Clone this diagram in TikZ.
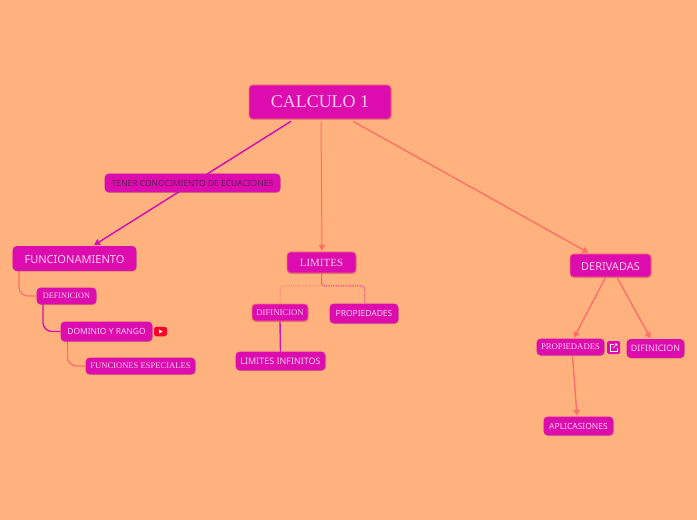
\documentclass[tikz,border=0pt]{standalone}
\usepackage{fontspec}
\setmainfont{Liberation Serif}
\newfontfamily\notof{Noto Sans}
\usetikzlibrary{arrows.meta,calc,shadows}
\pgfdeclarelayer{under}
\pgfsetlayers{under,main}
\definecolor{bgc}{HTML}{FFB27D}
\definecolor{boxc}{HTML}{DC0CAE}
\definecolor{linec}{HTML}{FF6F6A}
\definecolor{magl}{HTML}{D212B4}
\definecolor{txtc}{HTML}{F9CDE9}
\definecolor{darkt}{HTML}{5E1F56}
\tikzset{
  x=1bp,y=-1bp,
  topic/.style={draw=#1,line width=0.6pt,fill=boxc,rounded corners=3.5bp,inner sep=0pt,text=txtc,
    drop shadow={shadow xshift=0.5bp,shadow yshift=-1bp,opacity=.2,fill=black}},
  topic/.default=boxc,
  conn/.style={linec,line width=1.2pt,rounded corners=9bp},
  connm/.style={magl,line width=1.4pt,rounded corners=9bp},
  tip/.style={-{Triangle[length=6bp,width=6.5bp]}},
  dots/.style={line width=1pt,dash pattern=on 1bp off 1.4bp,rounded corners=3bp},
}
\begin{document}
\begin{tikzpicture}
\useasboundingbox (0,0) rectangle (697,520);
\path
 node[topic=linec,minimum width=142bp,minimum height=34bp,font=\fontsize{18}{20}\selectfont] (root) at (320,102) {CALCULO 1}
 node[topic=magl,minimum width=175bp,minimum height=18bp,text=darkt,font=\notof\fontsize{8.5}{10}\selectfont] (tener) at (192.5,183) {TENER CONOCIMIENTO DE ECUACIONES}
 node[topic,minimum width=123bp,minimum height=24bp,text height=10bp,font=\notof\fontsize{11.1}{13}\selectfont] (func) at (74.5,258.5) {FUNCIONAMIENTO}
 node[topic,minimum width=59bp,minimum height=16bp,font=\fontsize{8.3}{10}\selectfont] (defi) at (66.5,296) {DEFINICION}
 node[topic,minimum width=91bp,minimum height=19bp,font=\notof\fontsize{8.5}{10}\selectfont] (domi) at (106.5,331.5) {DOMINIO Y RANGO}
 node[topic,minimum width=109bp,minimum height=16bp,font=\fontsize{8.6}{10}\selectfont] (espe) at (140.5,366) {FUNCIONES ESPECIALES}
 node[topic=linec,minimum width=69bp,minimum height=21bp,font=\fontsize{11}{12}\selectfont] (limi) at (321.5,262.5) {LIMITES}
 node[topic=linec,minimum width=56bp,minimum height=17bp,font=\fontsize{8.7}{10}\selectfont] (difl) at (280,312.5) {DIFINICION}
 node[topic,minimum width=68bp,minimum height=19bp,font=\notof\fontsize{8.5}{10}\selectfont] (propl) at (364,313.5) {PROPIEDADES}
 node[topic,minimum width=89bp,minimum height=18bp,font=\notof\fontsize{9}{10}\selectfont] (inf) at (280.5,361) {LIMITES INFINITOS}
 node[topic=linec,minimum width=81bp,minimum height=23bp,text height=10bp,font=\notof\fontsize{11}{12}\selectfont] (deri) at (610.5,265.5) {DERIVADAS}
 node[topic,minimum width=67bp,minimum height=16bp,font=\fontsize{8.7}{10}\selectfont] (propr) at (570.5,347) {PROPIEDADES}
 node[topic,minimum width=57bp,minimum height=18bp,font=\notof\fontsize{8.9}{10}\selectfont] (difr) at (655.5,348.5) {DIFINICION}
 node[topic,minimum width=69bp,minimum height=18bp,font=\notof\fontsize{8.5}{10}\selectfont] (apli) at (578.5,426) {APLICASIONES}
 node[fill=red!85!magenta,rounded corners=2.5bp,minimum width=13bp,minimum height=9.5bp,inner sep=0pt] (yt) at (160.5,331.5) {}
 node[fill=boxc,rounded corners=1.5bp,minimum width=13bp,minimum height=13bp,inner sep=0pt] (lnk) at (613.5,347.5) {};
\begin{pgfonlayer}{under}
\fill[bgc] (0,0) rectangle (697,520);
\draw[connm,tip,line width=1.5pt] ([xshift=-29bp,yshift=-2bp]root.south) -- ([xshift=19.5bp,yshift=1bp]func.north);
\draw[conn,tip,line width=1pt] ([xshift=1bp,yshift=-2bp]root.south) -- ([xshift=.5bp,yshift=1bp]limi.north);
\draw[conn,tip,line width=1.4pt] ([xshift=33bp,yshift=-2bp]root.south) -- ([xshift=-22bp,yshift=1bp]deri.north);
\draw[conn] ([xshift=-55.5bp]func.south) |- (defi.west);
\draw[connm] ([xshift=-23.5bp]defi.south) |- (domi.west);
\draw[conn] ([xshift=-39bp]domi.south) |- (espe.west);
\draw[linec,dots] (limi.south) -- ++(0,12.5) -| (difl.north);
\draw[magl,dots,dash phase=1bp] (limi.south) -- ++(0,12.5) -| ([xshift=.5bp]propl.north);
\draw[linec,dots,dash phase=1.2bp] (limi.south) -- ++(0,12.5) -| ([xshift=.5bp]propl.north);
\draw[magl,line width=1.4pt] (difl.south) -- (inf.north);
\draw[conn,tip,line width=1.4pt] ([xshift=-5.5bp,yshift=-1bp]deri.south) -- ([xshift=3.5bp,yshift=1bp]propr.north);
\draw[conn,tip,line width=1.4pt] ([xshift=7bp,yshift=-1bp]deri.south) -- ([xshift=-5bp,yshift=1bp]difr.north);
\draw[conn,tip,line width=1.4pt] ([xshift=2bp,yshift=-1bp]propr.south) -- ([xshift=-1.5bp,yshift=1bp]apli.north);
\end{pgfonlayer}
\fill[white,shift={(yt.center)}] (-1.5,-2) -- (2.2,0) -- (-1.5,2) -- cycle;
\begin{scope}[shift={(lnk.center)},white,line width=.6pt]
\draw (.5,-3) -- (-3,-3) -- (-3,3.5) -- (3.5,3.5) -- (3.5,0);
\draw (-.5,.5) -- (3.5,-3.5) (1,-3.5) -- (3.5,-3.5) -- (3.5,-1.5);
\end{scope}
\end{tikzpicture}
\end{document}
